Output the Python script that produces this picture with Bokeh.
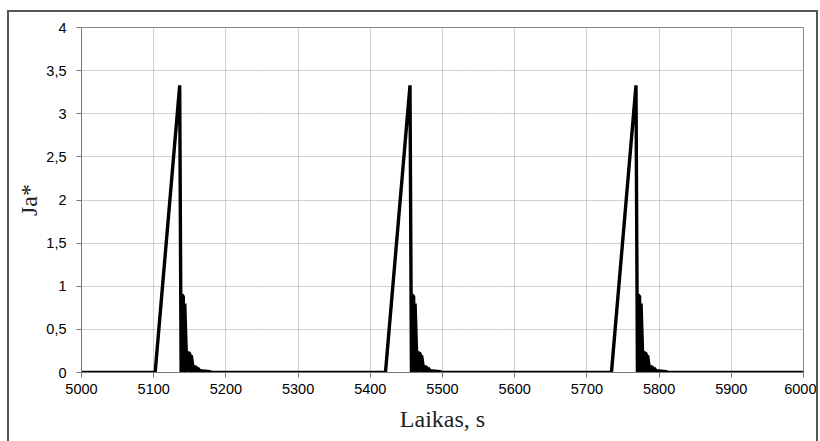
from bokeh.plotting import figure
from bokeh.embed import file_html
from bokeh.resources import INLINE
from bokeh.models import Range1d, FixedTicker

# time (s) and Ja* values
time_s = [
    5000,
    5102, 5136, 5138, 5139, 5141, 5142, 5143, 5145, 5146, 5147, 5150,
    5151, 5152, 5154, 5155, 5156, 5159, 5160, 5161, 5164, 5178, 5180,
    5421, 5455, 5457, 5458, 5460, 5461, 5462, 5464, 5465, 5466, 5469,
    5470, 5471, 5473, 5474, 5475, 5478, 5479, 5480, 5483, 5497, 5499,
    5734, 5768, 5770, 5771, 5773, 5774, 5775, 5777, 5778, 5779, 5782,
    5783, 5784, 5786, 5787, 5788, 5791, 5792, 5793, 5796, 5810, 5812,
    6000,
]
ja_values = [
    0,
    0, 3.33, 0, 0.9, 0.88, 0, 0.8, 0.25, 0, 0.23, 0.22,
    0, 0.2, 0.08, 0, 0.07, 0.06, 0, 0.05, 0.02, 0.01, 0,
    0, 3.33, 0, 0.9, 0.88, 0, 0.8, 0.25, 0, 0.23, 0.22,
    0, 0.2, 0.08, 0, 0.07, 0.06, 0, 0.05, 0.02, 0.01, 0,
    0, 3.33, 0, 0.9, 0.88, 0, 0.8, 0.25, 0, 0.23, 0.22,
    0, 0.2, 0.08, 0, 0.07, 0.06, 0, 0.05, 0.02, 0.01, 0,
    0,
]

x_ticks = [5000, 5100, 5200, 5300, 5400, 5500, 5600, 5700, 5800, 5900, 6000]
y_ticks = [0, 0.5, 1, 1.5, 2, 2.5, 3, 3.5, 4]
y_tick_labels = ["0", "0,5", "1", "1,5", "2", "2,5", "3", "3,5", "4"]

p = figure(width=811, height=431, output_backend="svg", toolbar_location=None,
           x_range=Range1d(5000, 6000), y_range=Range1d(0, 4),
           min_border_left=72, min_border_right=17, min_border_top=15,
           min_border_bottom=71)
p.margin = (10, 0, 0, 7)
p.styles = {"border-left": "2px solid #555", "border-top": "2px solid #555",
            "border-right": "2px solid #555"}

p.line(time_s, ja_values, line_color="black", line_width=3.4)

p.outline_line_color = "#888888"
p.outline_line_width = 1

for ax in (p.xaxis[0], p.yaxis[0]):
    ax.axis_line_color = "#777777"
    ax.major_tick_line_color = "#777777"
    ax.major_tick_out = 5
    ax.major_tick_in = 0
    ax.minor_tick_line_color = None
    ax.major_label_text_font = "Liberation Sans"
    ax.major_label_text_font_size = "14.5px"
    ax.major_label_text_color = "black"
    ax.axis_label_text_font = "Liberation Serif"
    ax.axis_label_text_font_style = "normal"
    ax.axis_label_text_font_size = "24px"
    ax.axis_label_text_color = "#222222"

p.xaxis[0].ticker = FixedTicker(ticks=x_ticks)
p.yaxis[0].ticker = FixedTicker(ticks=y_ticks)
p.yaxis[0].major_label_overrides = {t: l for t, l in zip(y_ticks, y_tick_labels)}
p.xaxis[0].axis_label = "Laikas, s"
p.yaxis[0].axis_label = "Ja*"
p.xaxis[0].major_label_standoff = 6
p.yaxis[0].major_label_standoff = 10
p.xaxis[0].axis_label_standoff = 9
p.yaxis[0].axis_label_standoff = 1

for g in (p.xgrid[0], p.ygrid[0]):
    g.grid_line_color = "#a0a0a0"
    g.grid_line_width = 1
    g.grid_line_dash = "1 1"

p.background_fill_color = "white"
p.border_fill_color = "white"

open("out.html", "w").write(file_html(p, INLINE))
